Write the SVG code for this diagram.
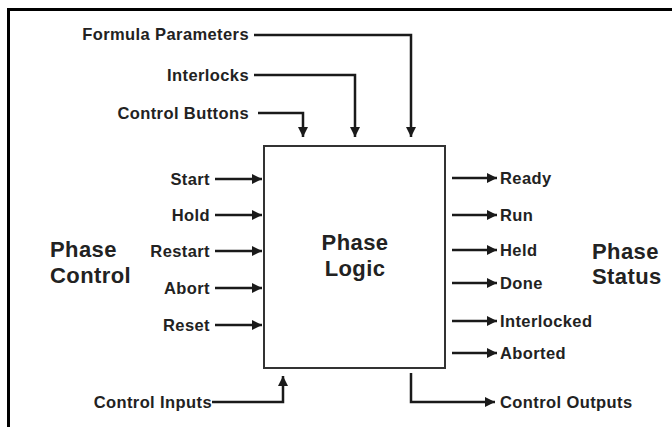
<svg xmlns="http://www.w3.org/2000/svg" width="672" height="427" viewBox="0 0 672 427">
<defs>
<marker id="ah" viewBox="0 0 10 10" refX="10" refY="5" markerWidth="4.6" markerHeight="4" markerUnits="strokeWidth" orient="auto">
<path d="M0,0 L10,5 L0,10 z" fill="#1a1a1a"/>
</marker>
<style>
text{font-family:"Liberation Sans",Arial,sans-serif;font-weight:bold;fill:#222}
.lbl{font-size:16.5px;letter-spacing:0.4px}
.big{font-size:22px;letter-spacing:0.4px}
.r{text-anchor:end}
.c{fill:none;stroke:#1a1a1a;stroke-width:2.5}
.a{marker-end:url(#ah)}
</style>
</defs>
<rect width="672" height="427" fill="#fff"/>
<path d="M8.5,427 V9.5 H672" fill="none" stroke="#000" stroke-width="3"/>

<g id="phase-logic">
<rect x="264" y="146" width="181" height="222" fill="#fff" stroke="#333" stroke-width="2"/>
<text class="big" x="355" y="250" text-anchor="middle">Phase</text>
<text class="big" x="355" y="276" text-anchor="middle">Logic</text>
</g>

<g id="phase-control">
<text class="big" x="50" y="257">Phase</text>
<text class="big" x="50" y="283">Control</text>
</g>

<g id="phase-status">
<text class="big" x="592" y="259">Phase</text>
<text class="big" x="592" y="284">Status</text>
</g>

<g id="inputs">
<text class="lbl r" x="249" y="40">Formula Parameters</text>
<text class="lbl r" x="249" y="81">Interlocks</text>
<text class="lbl r" x="249" y="119">Control Buttons</text>
<text class="lbl r" x="210" y="185">Start</text>
<text class="lbl r" x="210" y="221">Hold</text>
<text class="lbl r" x="210" y="257">Restart</text>
<text class="lbl r" x="210" y="294">Abort</text>
<text class="lbl r" x="210" y="331">Reset</text>
<text class="lbl r" x="212" y="408">Control Inputs</text>
</g>

<g id="outputs">
<text class="lbl" x="500" y="184">Ready</text>
<text class="lbl" x="500" y="221">Run</text>
<text class="lbl" x="500" y="256">Held</text>
<text class="lbl" x="500" y="289">Done</text>
<text class="lbl" x="500" y="327">Interlocked</text>
<text class="lbl" x="500" y="359">Aborted</text>
<text class="lbl" x="500" y="408">Control Outputs</text>
</g>

<g id="connectors">
<path class="c a" d="M254,35 H411 V137"/>
<path class="c a" d="M254,75 H355 V137"/>
<path class="c a" d="M258,113 H303 V137"/>
<path class="c a" d="M215,179 H262"/>
<path class="c a" d="M215,215 H262"/>
<path class="c a" d="M215,251 H262"/>
<path class="c a" d="M215,288 H262"/>
<path class="c a" d="M215,325 H262"/>
<path class="c a" d="M212,402 H283 V376"/>
<path class="c a" d="M452,178 H497"/>
<path class="c a" d="M452,215 H497"/>
<path class="c a" d="M452,250 H497"/>
<path class="c a" d="M452,283 H497"/>
<path class="c a" d="M452,321 H497"/>
<path class="c a" d="M452,353 H497"/>
<path class="c a" d="M411,373 V402 H495"/>
</g>
</svg>
